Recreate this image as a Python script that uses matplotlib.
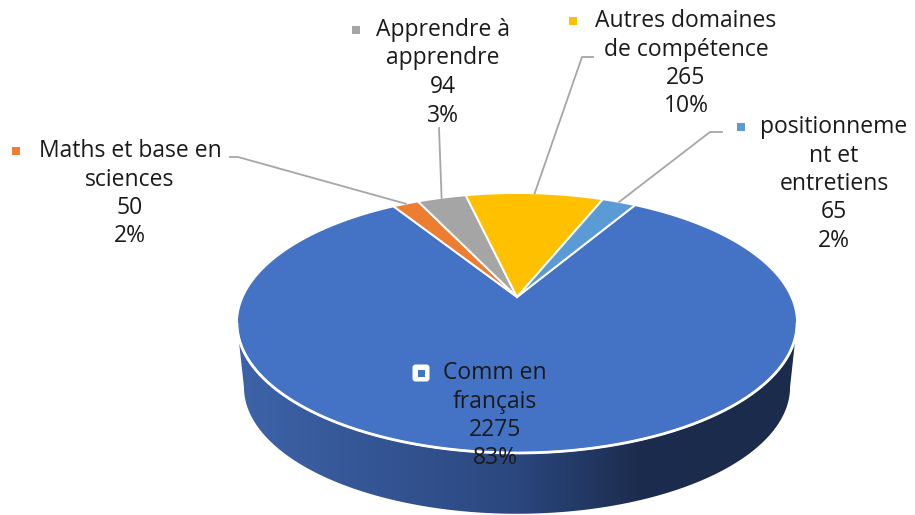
import numpy as np
import matplotlib.pyplot as plt
from matplotlib.patches import Polygon, FancyBboxPatch
from matplotlib.colors import LinearSegmentedColormap

# data (clockwise from the first slice, as in the sheet)
categories = ["Comm en français", "Maths et base en sciences", "Apprendre à apprendre",
              "Autres domaines de compétence", "positionnement et entretiens"]
values = [2275, 50, 94, 265, 65]
colors = ["#4472C4", "#ED7D31", "#A5A5A5", "#FFC000", "#5B9BD5"]
# how Excel wrapped each label
label_lines = [["Comm en", "français"],
               ["Maths et base en", "sciences"],
               ["Apprendre à", "apprendre"],
               ["Autres domaines", "de compétence"],
               ["positionneme", "nt et", "entretiens"]]

# pie geometry in pixel space (perspective view of a disc)
CX, CY = 517, 297          # projected centre of the disc
A, B, K = 274.4, 124.8, 0.2
START = 59.7               # angle of the first slice edge, degrees
ELL_CY = 323               # centre of the projected ellipse
DEPTH, SHRINK = 64, 0.975

# label layout: centre x, first line y, marker x, elbow (x, y)
label_pos = [(495, 373, 421, None),
             (130, 151, 16, (238, 157)),
             (443, 30, 356, (439, 128)),
             (686, 21, 573, (582, 57)),
             (834, 127, 741, (710, 132))]
LINE_STEP = 28.5
FONT = ["Open Sans", "DejaVu Sans"]
FS = 16.5


def project(theta_deg):
    t = np.radians(theta_deg)
    w = 1 + K * np.sin(t)
    return CX + A * np.cos(t) / w, CY - B * np.sin(t) / w


def project_bottom(theta_deg):
    x, y = project(theta_deg)
    return CX + SHRINK * (x - CX), ELL_CY + DEPTH + SHRINK * (y - ELL_CY)


fig = plt.figure(figsize=(9.15, 5.15), dpi=100)
ax = fig.add_axes([0, 0, 1, 1])
ax.set_xlim(0, 915)
ax.set_ylim(515, 0)
ax.axis("off")

# side of the cylinder (front half), horizontal gradient
tl = np.degrees(np.pi + np.arcsin(K))
tr = 360 - np.degrees(np.arcsin(K))
th = np.linspace(tl, tr, 300)
top_x, top_y = project(th)
bot_x, bot_y = project_bottom(th[::-1])
side = Polygon(np.column_stack([np.r_[top_x, bot_x], np.r_[top_y, bot_y]]),
               closed=True, facecolor="none", edgecolor="none")
ax.add_patch(side)
side_cmap = LinearSegmentedColormap.from_list(
    "side", [(0.0, "#3d63a8"), (0.5, "#2b477f"), (0.72, "#1c2c4e"), (1.0, "#1b2b4b")])
grad = np.linspace(0, 1, 256)[None, :]
img = ax.imshow(grad, cmap=side_cmap, extent=(237, 797, 515, 300), aspect="auto", zorder=1)
img.set_clip_path(side)

# top face slices
total = sum(values)
bounds = START - 360 * np.cumsum([0] + values) / total
mids = []
for i, (v, c) in enumerate(zip(values, colors)):
    a0, a1 = bounds[i], bounds[i + 1]
    mids.append((a0 + a1) / 2)
    ang = np.linspace(a0, a1, max(int(abs(a1 - a0)) * 2, 4))
    px, py = project(ang)
    pts = np.column_stack([np.r_[CX, px], np.r_[CY, py]])
    ax.add_patch(Polygon(pts, closed=True, facecolor=c, edgecolor="white",
                         linewidth=1.4, joinstyle="miter", zorder=2))

# white rim along the front edge
ax.plot(top_x, top_y, color="white", lw=2.0, zorder=3, solid_capstyle="round")

# labels
for i, (lines, (lx, ly, mx, elbow)) in enumerate(zip(label_lines, label_pos)):
    pct = round(100 * values[i] / total)
    rows = lines + [str(values[i]), f"{pct}%"]
    for j, r in enumerate(rows):
        ax.text(lx, ly + j * LINE_STEP, r, ha="center", va="center", fontsize=FS,
                family=FONT, color="#1a1a1a", zorder=5)
    if i == 0:
        # legend key sitting on the slice: white box with the slice colour inside
        ax.add_patch(FancyBboxPatch((mx - 8.5, ly - 8.5), 17, 17,
                                    boxstyle="round,pad=0,rounding_size=3",
                                    facecolor="white", edgecolor="none", zorder=5))
        ax.add_patch(FancyBboxPatch((mx - 3.5, ly - 3.5), 7, 7,
                                    boxstyle="square,pad=0",
                                    facecolor=colors[i], edgecolor="none", zorder=6))
        continue
    ax.add_patch(FancyBboxPatch((mx - 4, ly - 4), 8, 8, boxstyle="square,pad=0",
                                facecolor=colors[i], edgecolor="none", zorder=5))
    # leader line: from next to the text, via the elbow, to the slice rim
    ex, ey = project(mids[i])
    if i == 2:
        xs, ys = [elbow[0], ex], [elbow[1], ey]
    else:
        start_x = {1: 230, 3: 593, 4: 722}[i]
        xs, ys = [start_x, elbow[0], ex], [elbow[1], elbow[1], ey]
    ax.plot(xs, ys, color="#a6a6a6", lw=1.3, zorder=4)

fig.savefig("out.png", dpi=100, facecolor="white")
